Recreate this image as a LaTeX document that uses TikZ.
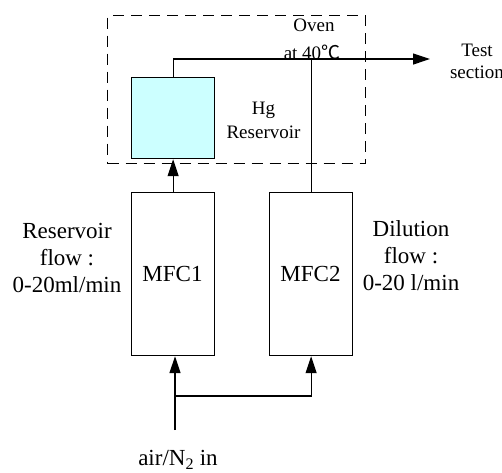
\documentclass[tikz,border=0pt]{standalone}
\usepackage{fontspec}
\setmainfont{Liberation Serif}
\newfontfamily\cjkfont{Noto Sans CJK SC}
\usetikzlibrary{arrows.meta}
\begin{document}
\begin{tikzpicture}[x=1pt,y=-1pt,
  line width=1.2pt,
  every node/.style={font=\fontsize{23}{27}\selectfont, inner sep=0pt},
  small/.style={font=\fontsize{19}{23}\selectfont},
  boxstyle/.style={draw, rectangle, line width=1.2pt},
  lbl/.style={align=center},
  arr/.style={-{Triangle[length=17pt,width=11pt]}}]
\useasboundingbox (0,0) rectangle (502,472);
% oven
\node[draw, dash pattern=on 11pt off 7pt, minimum width=258pt, minimum height=148pt, anchor=north west] (oven) at (107,15) {};
\node[boxstyle, fill={rgb,255:red,204;green,255;blue,255}, minimum width=83pt, minimum height=81pt, anchor=north west] (res) at (131,77) {};
\node[boxstyle, minimum width=83pt, minimum height=163pt, anchor=north west] (mfc1) at (131,192) {};
\node[boxstyle, minimum width=83pt, minimum height=163pt, anchor=north west] (mfc2) at (269,192) {};
\node (t1) at (172.5,274) {MFC1};
\node (t2) at (310.5,274) {MFC2};
\node[lbl, small] (hg) at (263.5,120) {Hg\\[1pt]Reservoir};
\node[small] (oventxt) at (314,25) {Oven};
\node[small] (temp) at (312,52) {at 40{\cjkfont ℃}};
\node[lbl, small] (test) at (477,61) {Test\\[-1pt]section};
\node[lbl] (resflow) at (67,258) {Reservoir\\flow :\\0-20ml/min};
\node[lbl] (dilflow) at (411,256) {Dilution\\flow :\\0-20 l/min};
\node (air) at (178,460) {air/N\textsubscript{2} in};
% connectors
\coordinate (testend) at (430,59);
\coordinate (airin) at (175,430);
\coordinate (junc) at (175,396);
\draw[arr] (res.north) |- (testend);
\draw (mfc2.north) -- (mfc2.north |- testend);
\draw[arr] (mfc1.north) -- (res.south);
\draw[arr] (airin) -- (airin |- mfc1.south);
\draw[arr] (junc) -| (mfc2.south);
\end{tikzpicture}
\end{document}
